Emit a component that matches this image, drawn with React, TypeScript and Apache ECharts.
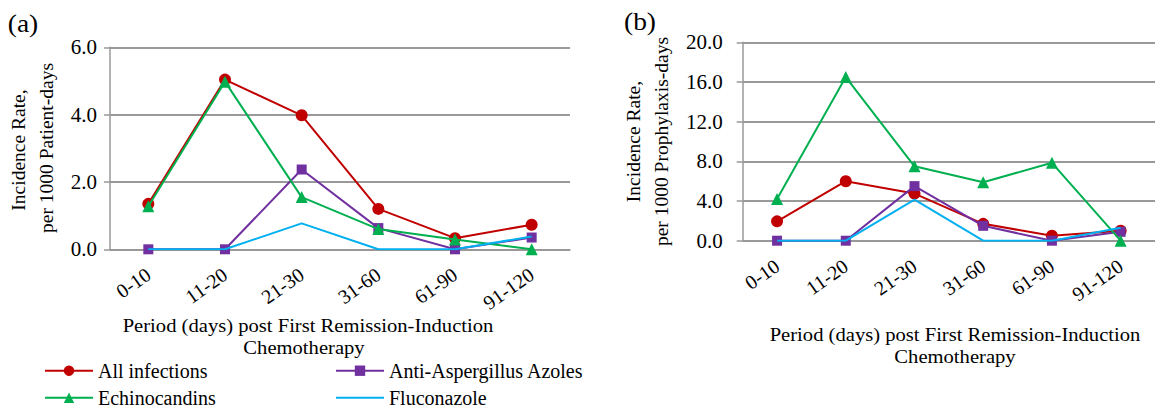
import React, { useEffect, useRef } from "react";
import * as echarts from "echarts";

const categories = ["0-10", "11-20", "21-30", "31-60", "61-90", "91-120"];

const seriesNames = ["All infections", "Anti-Aspergillus Azoles", "Echinocandins", "Fluconazole"];

// Panel (a): per 1000 patient-days
const aAll = [1.35, 5.04, 3.98, 1.2, 0.33, 0.73];
const aAzoles = [0, 0, 2.37, 0.63, 0, 0.35];
const aEchino = [1.28, 4.98, 1.55, 0.6, 0.29, 0];
const aFlucon = [0, 0, 0.77, 0, 0, 0.38];

// Panel (b): per 1000 prophylaxis-days
const bAll = [1.95, 6.0, 4.75, 1.7, 0.5, 1.0];
const bAzoles = [0, 0, 5.5, 1.5, 0, 0.9];
const bEchino = [4.2, 16.5, 7.5, 5.9, 7.85, 0];
const bFlucon = [0, 0, 4.15, 0, 0, 1.3];

const FONT = "Times New Roman, Liberation Serif, serif";
const COLORS = ["#C00000", "#7030A0", "#00B050", "#00B0F0"];
const SYMBOLS = ["circle", "rect", "triangle", "none"];
const SIZES = [12, 10, 12, 0];
const GRID_COLOR = "#999999";

export default function App() {
  const ref = useRef<HTMLDivElement>(null);
  useEffect(() => {
    if (!ref.current) return;
    const chart = echarts.init(ref.current, undefined, { renderer: "svg" });

    const xAxisBase = (gi: number) => ({
      type: "category",
      gridIndex: gi,
      data: categories,
      boundaryGap: true,
      axisLine: { show: true, lineStyle: { color: GRID_COLOR, width: 1.5 } },
      axisTick: { show: false },
      axisLabel: {
        rotate: 35,
        margin: 23,
        color: "#000",
        fontFamily: FONT,
        fontSize: 20,
        interval: 0,
      },
    });

    const yAxisBase = (gi: number, max: number, interval: number, margin: number) => ({
      type: "value",
      gridIndex: gi,
      min: 0,
      max,
      interval,
      axisLine: { show: true, lineStyle: { color: GRID_COLOR, width: 1.5 } },
      axisTick: { show: true, length: 6, lineStyle: { color: GRID_COLOR, width: 1.5 } },
      splitLine: { show: true, lineStyle: { color: GRID_COLOR, width: 2 } },
      axisLabel: {
        margin,
        color: "#000",
        fontFamily: FONT,
        fontSize: 21,
        formatter: (v: number) => v.toFixed(1),
      },
    });

    const dataA = [aAll, aAzoles, aEchino, aFlucon];
    const dataB = [bAll, bAzoles, bEchino, bFlucon];

    const mkSeries = (data: number[][], gi: number) =>
      data.map((d, i) => ({
        name: seriesNames[i],
        type: "line",
        xAxisIndex: gi,
        yAxisIndex: gi,
        data: d,
        symbol: SYMBOLS[i],
        symbolSize: SIZES[i],
        showSymbol: SYMBOLS[i] !== "none",
        itemStyle: { color: COLORS[i] },
        lineStyle: { color: COLORS[i], width: 2 },
        z: 2 + i,
      }));

    const textEl = (
      text: string,
      x: number,
      y: number,
      size: number,
      rotation = 0,
      scaleX = 1
    ) => ({
      type: "text",
      x,
      y,
      rotation,
      scaleX,
      style: {
        text,
        fill: "#000",
        fontSize: size,
        fontFamily: FONT,
        align: "center",
        verticalAlign: "middle",
      },
    });

    const legendText = { color: "#000", fontFamily: FONT, fontSize: 20, lineHeight: 20 };

    const legendAt = (idx: number, left: number, top: number) => ({
      data: [
        idx === 3
          ? { name: seriesNames[idx], itemStyle: { opacity: 0 } }
          : { name: seriesNames[idx] },
      ],
      orient: "horizontal",
      left,
      top,
      padding: 0,
      itemWidth: 48,
      itemHeight: 13,
      itemGap: 0,
      textStyle: legendText,
    });

    const SX = 1.057;

    chart.setOption({
      animation: false,
      backgroundColor: "#fff",
      textStyle: { fontFamily: FONT },
      grid: [
        { left: 110, right: 585, top: 47.3, bottom: 158.7, containLabel: false },
        { left: 742.7, right: -5, top: 42.3, bottom: 167.3, containLabel: false },
      ],
      xAxis: [xAxisBase(0), xAxisBase(1)],
      yAxis: [yAxisBase(0, 6, 2, 13), yAxisBase(1, 20, 4, 20)],
      legend: [
        legendAt(0, 44, 360.7),
        legendAt(2, 44, 387.7),
        legendAt(1, 335, 360.7),
        legendAt(3, 335, 387.7),
      ],
      graphic: [
        textEl("(a)", 23, 23, 26, 0, SX),
        textEl("(b)", 640, 21, 26, 0, SX),
        textEl("Incidence Rate,", 18.5, 150, 19.5, Math.PI / 2),
        textEl("per 1000 Patient-days", 46.5, 148, 19.5, Math.PI / 2),
        textEl("Incidence Rate,", 633.5, 141.5, 19.5, Math.PI / 2),
        textEl("per 1000 Prophylaxis-days", 661.5, 141.5, 19.5, Math.PI / 2),
        textEl("Period (days) post First Remission-Induction", 308, 325, 19.5, 0, SX),
        textEl("Chemotherapy", 304, 347, 19.5, 0, SX),
        textEl("Period (days) post First Remission-Induction", 955, 334, 19.5, 0, SX),
        textEl("Chemotherapy", 955, 356, 19.5, 0, SX),
      ],
      series: [...mkSeries(dataA, 0), ...mkSeries(dataB, 1)],
    });

    return () => chart.dispose();
  }, []);

  return (
    <div
      ref={ref}
      style={{ position: "fixed", left: 0, top: 0, width: 1155, height: 408, background: "#fff" }}
    />
  );
}
